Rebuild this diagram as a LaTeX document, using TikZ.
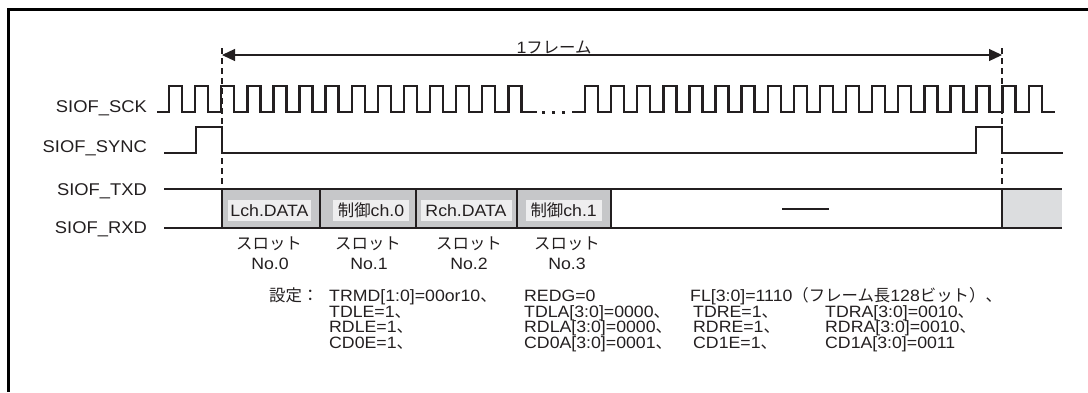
\documentclass[tikz,border=0pt]{standalone}
\usepackage{fontspec}
\setmainfont{Liberation Sans}[FakeStretch=1.08]
\newfontfamily\jp{Noto Sans CJK JP}
\usetikzlibrary{arrows.meta}
\definecolor{ink}{RGB}{35,31,32}
\definecolor{slotgray}{RGB}{198,199,201}
\definecolor{labbg}{RGB}{238,238,239}
\definecolor{tailgray}{RGB}{220,221,223}
\newcommand\settingfont{\fontsize{16.4}{15.6}\selectfont\lineskiplimit=-100pt\relax}
\newcommand\colpair[2]{\makebox[135pt][l]{\hspace*{3pt}#1}#2}
\tikzset{
  sig/.style={draw=ink, line width=2.4pt, line join=miter},
  frameline/.style={draw=black, line width=2.7pt},
  dimline/.style={draw=ink, line width=1.2pt},
  dashline/.style={draw=ink, line width=1.1pt, dash pattern=on 6pt off 4pt},
  sidelab/.style={anchor=base east, font=\fontsize{17}{17}\selectfont, text=ink, inner sep=0pt},
  txt/.style={font=\fontsize{16.4}{16.4}\selectfont, text=ink, inner sep=0pt},
  setting/.style={anchor=base west, align=left, text=ink, inner sep=0pt, font=\settingfont},
  slotbox/.style={draw=ink, fill=slotgray, line width=2.4pt, minimum height=39pt, inner sep=0pt},
  slotlab/.style={txt, fill=labbg, minimum height=21pt, inner xsep=1pt},
  slotname/.style={txt, anchor=base},
}
\begin{document}
\begin{tikzpicture}[x=1pt,y=-1pt]
\useasboundingbox (0,0) rectangle (1088,392);
% frame
\coordinate (fTL) at (8.5,9.5);
\coordinate (fTR) at (1088,9.5);
\coordinate (fBL) at (8.5,392);
\draw[frameline] (fTR) -- (fTL) -- (fBL);

% frame dimension
\coordinate (dimL) at (222,55);
\coordinate (dimR) at (1002,55);
\draw[dimline, {Triangle[length=13pt,width=12pt]}-{Triangle[length=13pt,width=12pt]}] (dimL) -- (dimR);
\node[txt, anchor=base] (frm) at (554,53) {1{\jp フレーム}};

% dashed markers
\coordinate (dLtop) at (222,48);
\coordinate (dLbot) at (222,189);
\coordinate (dRtop) at (1002,48);
\coordinate (dRbot) at (1002,189);
\draw[dashline] (dLtop) -- (dLbot);
\draw[dashline] (dRtop) -- (dRbot);

% labels
\node[sidelab] (lsck) at (147,112) {SIOF\_SCK};
\node[sidelab] (lsync) at (147,152) {SIOF\_SYNC};
\node[sidelab] (ltxd) at (147,195) {SIOF\_TXD};
\node[sidelab] (lrxd) at (147,233) {SIOF\_RXD};

% clock
\draw[sig] (157,112) \foreach \k in {0,...,13} {
   -- ({169+\k*26.1},112) -- ({169+\k*26.1},86) -- ({182.05+\k*26.1},86) -- ({182.05+\k*26.1},112) } -- (537,112);
\foreach \xx in {543,553,563}
  \fill[ink] (\xx-1.5,110.5) rectangle (\xx+1.5,113.5);
\draw[sig] (572,112) \foreach \k in {0,...,17} {
   -- ({585+\k*26.1},112) -- ({585+\k*26.1},86) -- ({598.05+\k*26.1},86) -- ({598.05+\k*26.1},112) } -- (1055,112);

% sync
\draw[sig] (164,153) -- (196,153) -- (196,127) -- (222,127) -- (222,153) -- (976,153) -- (976,127) -- (1002,127) -- (1002,153) -- (1063,153);

% data lines
\fill[tailgray] (1002,189) rectangle (1062,228);
\draw[sig] (164,189) -- (1062,189);
\draw[sig] (164,228) -- (1062,228);
\draw[sig] (1002,189) -- (1002,228);
\node[slotbox, minimum width=98pt] (s0) at (271,208.5) {};
\node[slotbox, minimum width=96pt] (s1) at (368,208.5) {};
\node[slotbox, minimum width=101pt] (s2) at (466.5,208.5) {};
\node[slotbox, minimum width=94pt] (s3) at (564,208.5) {};
\node[slotlab, minimum width=83pt] (t0) at (269.5,210.5) {Lch.DATA};
\node[slotlab, minimum width=76pt] (t1) at (371,210.5) {{\jp 制御}ch.0};
\node[slotlab, minimum width=91pt] (t2) at (466,210.5) {Rch.DATA};
\node[slotlab, minimum width=76pt] (t3) at (563.7,210.5) {{\jp 制御}ch.1};
\coordinate (dashA) at (782,209);
\coordinate (dashB) at (829,209);
\draw[ink, line width=1.5pt] (dashA) -- (dashB);

% slot names
\node[slotname] (n0a) at (269,249) {\jp スロット};
\node[slotname] (n0b) at (270,269.5) {No.0};
\node[slotname] (n1a) at (368,249) {\jp スロット};
\node[slotname] (n1b) at (369,269.5) {No.1};
\node[slotname] (n2a) at (469,249) {\jp スロット};
\node[slotname] (n2b) at (469,269.5) {No.2};
\node[slotname] (n3a) at (567,249) {\jp スロット};
\node[slotname] (n3b) at (567,269.5) {No.3};

% settings (base anchor = baseline of the last line)
\node[setting] (set) at (269,301.5) {{\jp 設定：}};
\node[setting] (c1) at (329,348.3) {TRMD[1:0]=00or10{\jp 、}\\ TDLE=1{\jp 、}\\ RDLE=1{\jp 、}\\ CD0E=1{\jp 、}};
\node[setting] (c2) at (524,348.3) {REDG=0\\ TDLA[3:0]=0000{\jp 、}\\ RDLA[3:0]=0000{\jp 、}\\ CD0A[3:0]=0001{\jp 、}};
\node[setting] (c3) at (690,348.3) {FL[3:0]=1110{\jp （フレーム長}128{\jp ビット）、}\\
  \colpair{TDRE=1{\jp 、}}{TDRA[3:0]=0010{\jp 、}}\\
  \colpair{RDRE=1{\jp 、}}{RDRA[3:0]=0010{\jp 、}}\\
  \colpair{CD1E=1{\jp 、}}{CD1A[3:0]=0011}};
\end{tikzpicture}
\end{document}
